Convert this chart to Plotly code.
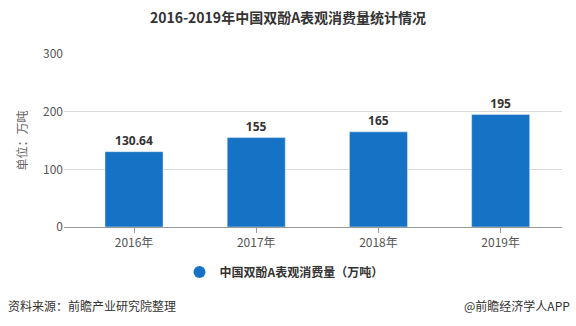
import plotly.graph_objects as go

categories = ["2016年", "2017年", "2018年", "2019年"]
values = [130.64, 155, 165, 195]
value_labels = ["130.64", "155", "165", "195"]
series_name = "中国双酚A表观消费量（万吨）"

W, H = 576, 326
L, R, T, B = 64, 14, 54, 99
ph = H - T - B
pw = W - L - R

font_cn = "Microsoft YaHei, Noto Sans CJK SC, sans-serif"
bar_color = "#1672C4"

fig = go.Figure()
fig.add_trace(go.Bar(
    x=categories, y=values, text=value_labels, textposition="outside",
    textfont=dict(family="Open Sans, DejaVu Sans, sans-serif", size=12, color="#333333", weight="bold"),
    marker=dict(color=bar_color), width=0.475, showlegend=False, cliponaxis=False,
    hoverinfo="skip",
))
fig.add_trace(go.Scatter(
    x=[None], y=[None], mode="markers", name=series_name,
    marker=dict(symbol="circle", size=12, color=bar_color),
))

def px2py(py):
    return (H - B - py) / ph

def px2px(px):
    return (px - L) / pw

fig.update_layout(
    width=W, height=H,
    margin=dict(l=L, r=R, t=T, b=B),
    paper_bgcolor="white", plot_bgcolor="white",
    font=dict(family=font_cn, size=12, color="#555555"),
    title=dict(text="<b>2016-2019年中国双酚A表观消费量统计情况</b>", x=0.5, xanchor="center",
               y=1 - 18 / H, yanchor="middle", font=dict(size=14, color="#333333")),
    showlegend=True,
    legend=dict(orientation="h", x=px2px(284), xanchor="center", y=px2py(272), yanchor="middle",
                font=dict(size=12, color="#333333", weight="bold"), itemwidth=30),
    xaxis=dict(showline=True, linecolor="#999999", linewidth=1, ticks="outside", ticklen=5,
               tickcolor="#999999", tickfont=dict(size=12, color="#555555"), showgrid=False,
               range=[-0.573, 3.502]),
    yaxis=dict(range=[0, 300], dtick=100, showgrid=True, gridcolor="#d9d9d9", gridwidth=1,
               zeroline=False, tickfont=dict(size=12, color="#555555"),
               title=dict(text="单位：万吨", font=dict(size=12, color="#666666"), standoff=12)),
)

fig.add_annotation(text="资料来源：前瞻产业研究院整理", xref="paper", yref="paper",
                   x=px2px(6), y=px2py(305), xanchor="left", yanchor="middle", showarrow=False,
                   font=dict(size=12, color="#333333"))
fig.add_annotation(text="@前瞻经济学人APP", xref="paper", yref="paper",
                   x=px2px(572), y=px2py(305), xanchor="right", yanchor="middle", showarrow=False,
                   font=dict(size=12, color="#333333"))

fig.write_html("out.html")
